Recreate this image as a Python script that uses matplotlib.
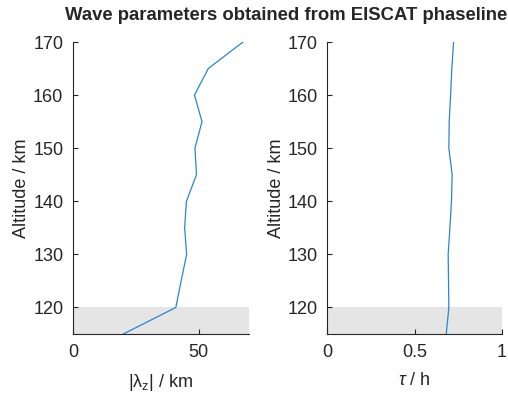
import matplotlib
matplotlib.use("Agg")
import matplotlib.pyplot as plt

# altitude grid (km)
altitude = [115, 120, 125, 130, 135, 140, 145, 150, 155, 160, 165, 170]
# vertical wavelength |lambda_z| (km)
lambda_z = [20.0, 40.9, 43.0, 45.2, 44.4, 45.1, 49.1, 48.5, 51.3, 48.3, 53.8, 67.6]
# period tau (h)
tau = [0.682, 0.697, 0.695, 0.693, 0.703, 0.712, 0.716, 0.697, 0.699, 0.707, 0.714, 0.724]

shade_lo, shade_hi = 115, 120

text_col = "#262626"
line_col = "#2a86cc"

plt.rcParams["font.family"] = ["Liberation Sans", "DejaVu Sans"]
plt.rcParams["mathtext.fontset"] = "custom"
plt.rcParams["mathtext.rm"] = "Liberation Sans"
plt.rcParams["mathtext.it"] = "Liberation Sans:italic"

fig = plt.figure(figsize=(5.08, 3.97), dpi=100)
ax1 = fig.add_axes([0.1437, 0.1587, 0.3465, 0.7355])
ax2 = fig.add_axes([0.6443, 0.1587, 0.3433, 0.7355])


def style(ax, xlim, xticks, xticklabels):
    ax.set_xlim(*xlim)
    ax.set_ylim(115, 170)
    ax.set_xticks(xticks)
    ax.set_xticklabels(xticklabels)
    ax.set_yticks([120, 130, 140, 150, 160, 170])
    for s in ["top", "right"]:
        ax.spines[s].set_visible(False)
    for s in ["left", "bottom"]:
        ax.spines[s].set_color(text_col)
        ax.spines[s].set_linewidth(0.8)
    ax.tick_params(direction="in", length=3.5, width=0.8, color=text_col,
                   labelcolor=text_col, labelsize=13, pad=7)
    ax.set_ylabel("Altitude / km", fontsize=13, color=text_col, labelpad=2)


ax1.axhspan(shade_lo, shade_hi, color="#e5e5e5", lw=0, zorder=0)
ax1.plot(lambda_z, altitude, color=line_col, lw=0.9)
style(ax1, (0, 70), [0, 50], ["0", "50"])
ax1.set_xlabel("|λ$_{\\mathrm{z}}$| / km", fontsize=13, color=text_col, labelpad=8)

ax2.axhspan(shade_lo, shade_hi, color="#e5e5e5", lw=0, zorder=0)
ax2.plot(tau, altitude, color=line_col, lw=0.9)
style(ax2, (0, 1), [0, 0.5, 1], ["0", "0.5", "1"])
ax2.set_xlabel("$\\tau$ / h", fontsize=13, color=text_col, labelpad=8)

fig.text(0.128, 0.962, "Wave parameters obtained from EISCAT phaseline",
         fontsize=13.3, fontweight="bold", color=text_col, ha="left", va="center")

fig.savefig("out.png", dpi=100)
